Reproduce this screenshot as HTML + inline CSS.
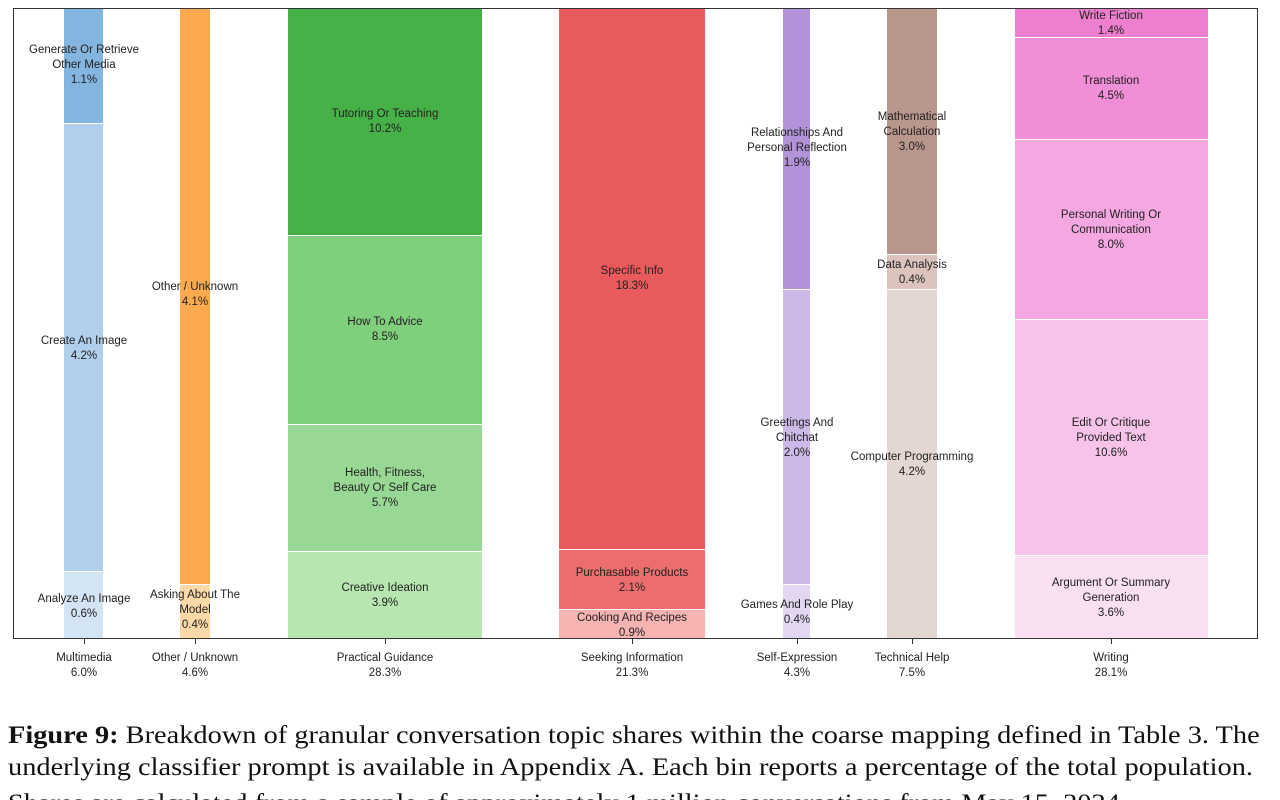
<!DOCTYPE html>
<html><head><meta charset="utf-8"><style>
html,body{margin:0;width:1280px;height:800px;overflow:hidden;background:#fff}
body{position:relative;font-family:"Liberation Sans",sans-serif}
.f{position:absolute;left:13px;top:8px;width:1245px;height:631px;border:1.5px solid #333;box-sizing:border-box}
.s{position:absolute;box-sizing:border-box;border-bottom:1.5px solid #fff}
.l{position:absolute;font-size:11.5px;line-height:15px;text-align:center;color:#222;white-space:nowrap;transform:translateX(-50%)}
.x{position:absolute;top:651px;font-size:11.5px;line-height:15px;text-align:center;color:#222;transform:translateX(-50%);white-space:nowrap}
.t{position:absolute;top:639px;width:1px;height:5px;background:#333}
.cap{position:absolute;left:8px;font-family:"Liberation Serif",serif;font-size:25px;white-space:nowrap;color:#111;transform-origin:0 0;transform:scaleX(1.135)}
</style></head><body>
<div class="s" style="left:64px;top:8px;width:39px;height:116px;background:#84b5df"></div>
<div class="s" style="left:64px;top:124px;width:39px;height:448px;background:#b0cfec"></div>
<div class="s" style="left:64px;top:572px;width:39px;height:68px;background:#d3e4f4"></div>
<div class="s" style="left:180px;top:8px;width:30px;height:577px;background:#fda94f"></div>
<div class="s" style="left:180px;top:585px;width:30px;height:55px;background:#fdd8a8"></div>
<div class="s" style="left:288px;top:8px;width:194px;height:228px;background:#46b146"></div>
<div class="s" style="left:288px;top:236px;width:194px;height:189px;background:#80cf7c"></div>
<div class="s" style="left:288px;top:425px;width:194px;height:127px;background:#98d894"></div>
<div class="s" style="left:288px;top:552px;width:194px;height:88px;background:#b8e6b1"></div>
<div class="s" style="left:559px;top:8px;width:146px;height:542px;background:#e85a5b"></div>
<div class="s" style="left:559px;top:550px;width:146px;height:60px;background:#ec6d6d"></div>
<div class="s" style="left:559px;top:610px;width:146px;height:30px;background:#f5b3b2"></div>
<div class="s" style="left:783px;top:8px;width:27px;height:282px;background:#b293d8"></div>
<div class="s" style="left:783px;top:290px;width:27px;height:295px;background:#cdb9e7"></div>
<div class="s" style="left:783px;top:585px;width:27px;height:55px;background:#e2d6f0"></div>
<div class="s" style="left:887px;top:8px;width:50px;height:247px;background:#b9968b"></div>
<div class="s" style="left:887px;top:255px;width:50px;height:35px;background:#dcc4bc"></div>
<div class="s" style="left:887px;top:290px;width:50px;height:350px;background:#e4d6d0"></div>
<div class="s" style="left:1015px;top:8px;width:193px;height:30px;background:#ee7fcf"></div>
<div class="s" style="left:1015px;top:38px;width:193px;height:102px;background:#f08ed7"></div>
<div class="s" style="left:1015px;top:140px;width:193px;height:180px;background:#f4a7e0"></div>
<div class="s" style="left:1015px;top:320px;width:193px;height:236px;background:#f7c3e9"></div>
<div class="s" style="left:1015px;top:556px;width:193px;height:84px;background:#fae0f3"></div>
<div class="f"></div>

<div class="l" style="left:84px;top:43px">Generate Or Retrieve<br>Other Media<br>1.1%</div>
<div class="l" style="left:84px;top:334px">Create An Image<br>4.2%</div>
<div class="l" style="left:84px;top:592px">Analyze An Image<br>0.6%</div>
<div class="l" style="left:195px;top:280px">Other / Unknown<br>4.1%</div>
<div class="l" style="left:195px;top:588px">Asking About The<br>Model<br>0.4%</div>
<div class="l" style="left:385px;top:107px">Tutoring Or Teaching<br>10.2%</div>
<div class="l" style="left:385px;top:315px">How To Advice<br>8.5%</div>
<div class="l" style="left:385px;top:466px">Health, Fitness,<br>Beauty Or Self Care<br>5.7%</div>
<div class="l" style="left:385px;top:581px">Creative Ideation<br>3.9%</div>
<div class="l" style="left:632px;top:264px">Specific Info<br>18.3%</div>
<div class="l" style="left:632px;top:566px">Purchasable Products<br>2.1%</div>
<div class="l" style="left:632px;top:611px">Cooking And Recipes<br>0.9%</div>
<div class="l" style="left:797px;top:126px">Relationships And<br>Personal Reflection<br>1.9%</div>
<div class="l" style="left:797px;top:416px">Greetings And<br>Chitchat<br>2.0%</div>
<div class="l" style="left:797px;top:598px">Games And Role Play<br>0.4%</div>
<div class="l" style="left:912px;top:110px">Mathematical<br>Calculation<br>3.0%</div>
<div class="l" style="left:912px;top:258px">Data Analysis<br>0.4%</div>
<div class="l" style="left:912px;top:450px">Computer Programming<br>4.2%</div>
<div class="l" style="left:1111px;top:9px">Write Fiction<br>1.4%</div>
<div class="l" style="left:1111px;top:74px">Translation<br>4.5%</div>
<div class="l" style="left:1111px;top:208px">Personal Writing Or<br>Communication<br>8.0%</div>
<div class="l" style="left:1111px;top:416px">Edit Or Critique<br>Provided Text<br>10.6%</div>
<div class="l" style="left:1111px;top:576px">Argument Or Summary<br>Generation<br>3.6%</div>

<div class="t" style="left:84px"></div><div class="t" style="left:195px"></div><div class="t" style="left:385px"></div><div class="t" style="left:632px"></div><div class="t" style="left:797px"></div><div class="t" style="left:912px"></div><div class="t" style="left:1111px"></div>
<div class="x" style="left:84px">Multimedia<br>6.0%</div>
<div class="x" style="left:195px">Other / Unknown<br>4.6%</div>
<div class="x" style="left:385px">Practical Guidance<br>28.3%</div>
<div class="x" style="left:632px">Seeking Information<br>21.3%</div>
<div class="x" style="left:797px">Self-Expression<br>4.3%</div>
<div class="x" style="left:912px">Technical Help<br>7.5%</div>
<div class="x" style="left:1111px">Writing<br>28.1%</div>

<div class="cap" style="top:722px"><b>Figure 9:</b> Breakdown of granular conversation topic shares within the coarse mapping defined in Table 3. The</div>
<div class="cap" style="top:754px">underlying classifier prompt is available in Appendix A. Each bin reports a percentage of the total population.</div>
<div class="cap" style="top:790px">Shares are calculated from a sample of approximately 1 million conversations from May 15, 2024</div>
</body></html>
